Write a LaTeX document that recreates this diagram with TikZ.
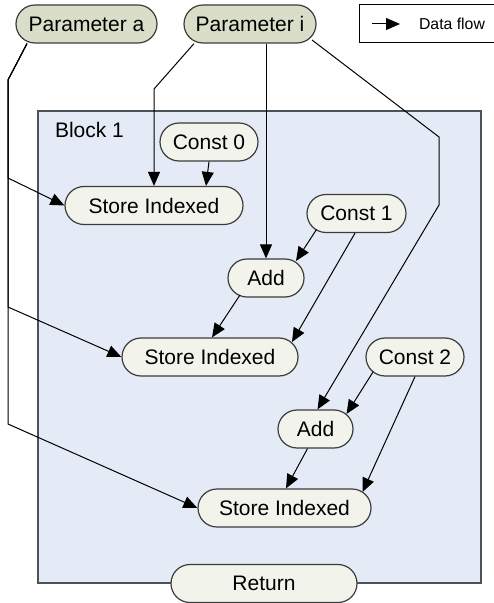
\documentclass[tikz,border=0pt]{standalone}
\usepackage{fontspec}
\setmainfont{Liberation Sans}
\usetikzlibrary{arrows.meta,calc,shapes.misc}
\definecolor{parfill}{HTML}{D8DEC8}
\definecolor{opfill}{HTML}{F2F4EC}
\definecolor{blkfill}{HTML}{E4EBF6}
\definecolor{edgegray}{HTML}{3C3C3C}
\definecolor{blkedge}{HTML}{4A525A}
\tikzset{
  opnode/.style={draw=edgegray, line width=0.6pt, rounded rectangle, fill=opfill, minimum height=19pt, inner sep=0pt, font=\fontsize{10.5pt}{12pt}\selectfont},
  param/.style={opnode, fill=parfill},
  arr/.style={-{Triangle[length=7pt,width=6pt]}, line width=0.5pt},
}
\begin{document}
\begin{tikzpicture}[x=0.5pt,y=-0.5pt]
  \useasboundingbox (0,0) rectangle (493,603);
  \draw[blkedge, line width=0.8pt, fill=blkfill] (37.7,111) rectangle (481,583);
  \node[anchor=west, font=\fontsize{10.5pt}{12pt}\selectfont] (title) at (48,130) {Block 1};

  \node[param, minimum width=70.5pt] (pa) at (86.5,24) {Parameter a};
  \node[param, minimum width=66pt] (pi) at (250,24) {Parameter i};
  \node[draw, line width=0.5pt, minimum width=73pt, minimum height=19pt] (legend) at (432,24) {};
  \coordinate (lga) at (372,24);
  \coordinate (lgb) at (400,24);
  \draw[arr] (lga) -- (lgb);
  \node[anchor=west, font=\fontsize{7.9pt}{9pt}\selectfont] (lgtext) at (412,24) {Data flow};

  \node[opnode, minimum width=49pt] (c0) at (209,142) {Const 0};
  \node[opnode, minimum width=89pt] (s1) at (154,205.5) {Store Indexed};
  \node[opnode, minimum width=49.5pt] (c1) at (356.5,213.5) {Const 1};
  \node[opnode, minimum width=38pt] (add1) at (266,278) {Add};
  \node[opnode, minimum width=88pt] (s2) at (210,357) {Store Indexed};
  \node[opnode, minimum width=49pt] (c2) at (415,357) {Const 2};
  \node[opnode, minimum width=37.5pt] (add2) at (315.5,429) {Add};
  \node[opnode, minimum width=86.5pt] (s3) at (284.5,508) {Store Indexed};
  \node[opnode, minimum width=93pt] (ret) at (264,583.5) {Return};

  \draw[arr] ($(pa.south)+(-59.5,0)$) -- (8,80) -- (8,178) -- (s1.west);
  \draw[arr] ($(pa.south)+(-59.5,0)$) -- (8,80) -- (8,307) -- (s2.west);
  \draw[arr] ($(pa.south)+(-59.5,0)$) -- (8,80) -- (8,424) -- (s3.west);
  \draw[arr] ($(pi.south)+(-56,0)$) -- (154,89) -- (s1.north);
  \draw[arr] (pi.south -| add1.north) -- (add1.north);
  \draw[arr] ($(pi.center)+(62,16)$) -- (439,137) -- (439,205) -- ($(add2.north)+(2,0)$);
  \draw[arr] (c0.south) -- ($(s1.north)+(52,0)$);
  \draw[arr] ($(c1.center)+(-40,16)$) -- ($(add1.center)+(30,-17)$);
  \draw[arr] ($(c1.south)+(-1.5,0)$) -- ($(s2.center)+(82,-15)$);
  \draw[arr] ($(add1.center)+(-26,17)$) -- ($(s2.north)+(2,0)$);
  \draw[arr] ($(c2.center)+(-42,15)$) -- ($(add2.center)+(31,-15)$);
  \draw[arr] (c2.south) -- ($(s3.center)+(78,-16)$);
  \draw[arr] ($(add2.south)+(-8,0)$) -- ($(s3.north)+(1.5,0)$);
\end{tikzpicture}
\end{document}
